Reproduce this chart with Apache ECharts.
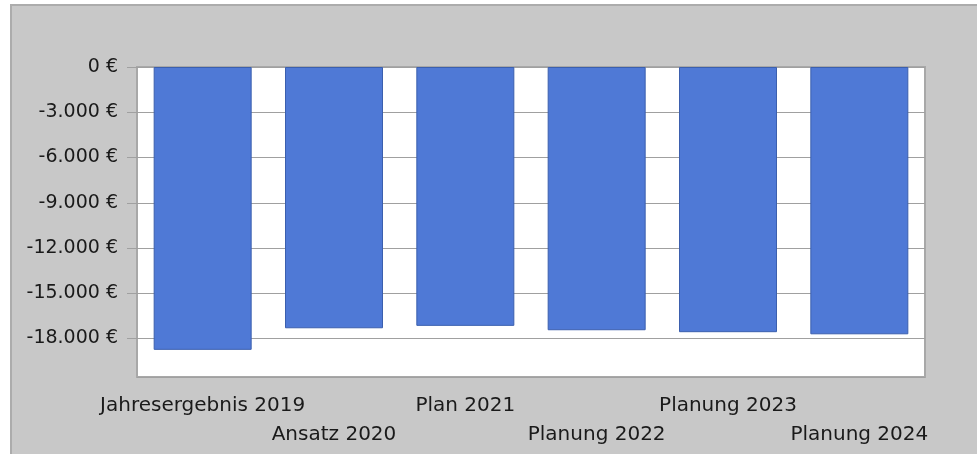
<!DOCTYPE html>
<html>
<head>
<meta charset="utf-8">
<script src="https://cdn.jsdelivr.net/npm/echarts@6/dist/echarts.min.js"></script>
<style>
  html, body { margin: 0; padding: 0; background: #fff; }
  #chart {
    position: absolute;
    left: 10px;
    top: 4px;
    width: 965px;
    height: 448px;
    background: #c8c8c8;
    border-left: 2px solid #acacac;
    border-top: 2px solid #acacac;
  }
</style>
</head>
<body>
<div id="chart"></div>
<script>
// Kategorien und Werte (Euro)
var categories = ['Jahresergebnis 2019', 'Ansatz 2020', 'Plan 2021', 'Planung 2022', 'Planung 2023', 'Planung 2024'];
var values = [-18750, -17320, -17160, -17450, -17580, -17720];

var euro = function (v) {
  var s = Math.abs(v).toFixed(0).replace(/\B(?=(\d{3})+(?!\d))/g, '.');
  return (v < 0 ? '-' : '') + s + ' €';
};

var chart = echarts.init(document.getElementById('chart'));

var option = {
  animation: false,
  textStyle: { fontFamily: 'DejaVu Sans' },
  grid: {
    left: 125,
    right: 52,
    top: 61,
    bottom: 77,
    show: true,
    backgroundColor: '#ffffff',
    borderColor: '#a8a8a8',
    borderWidth: 2
  },
  xAxis: {
    type: 'category',
    data: categories,
    axisLine: { show: false },
    axisTick: {
      show: true,
      alignWithLabel: true,
      length: 9,
      lineStyle: { color: '#a0a0a0', width: 1 }
    },
    axisLabel: {
      interval: 0,
      margin: 14,
      fontSize: 20,
      color: '#1a1a1a',
      lineHeight: 29,
      formatter: function (val, idx) {
        return idx % 2 === 1 ? '\n' + val : val;
      }
    }
  },
  yAxis: {
    type: 'value',
    max: 0,
    min: -20550,
    minInterval: 3000,
    maxInterval: 3000,
    splitNumber: 7,
    axisLine: { show: false },
    axisTick: {
      show: true,
      length: 10,
      lineStyle: { color: '#a0a0a0', width: 1 }
    },
    splitLine: { lineStyle: { color: '#a0a0a0', width: 1 } },
    axisLabel: {
      showMinLabel: false,
      margin: 19,
      fontSize: 19,
      color: '#1a1a1a',
      formatter: euro
    }
  },
  series: [
    {
      type: 'bar',
      data: values,
      barWidth: 98,
      itemStyle: {
        color: '#4f79d6',
        borderColor: '#3b5fae',
        borderWidth: 1
      }
    }
  ]
};

chart.setOption(option);
</script>
</body>
</html>
